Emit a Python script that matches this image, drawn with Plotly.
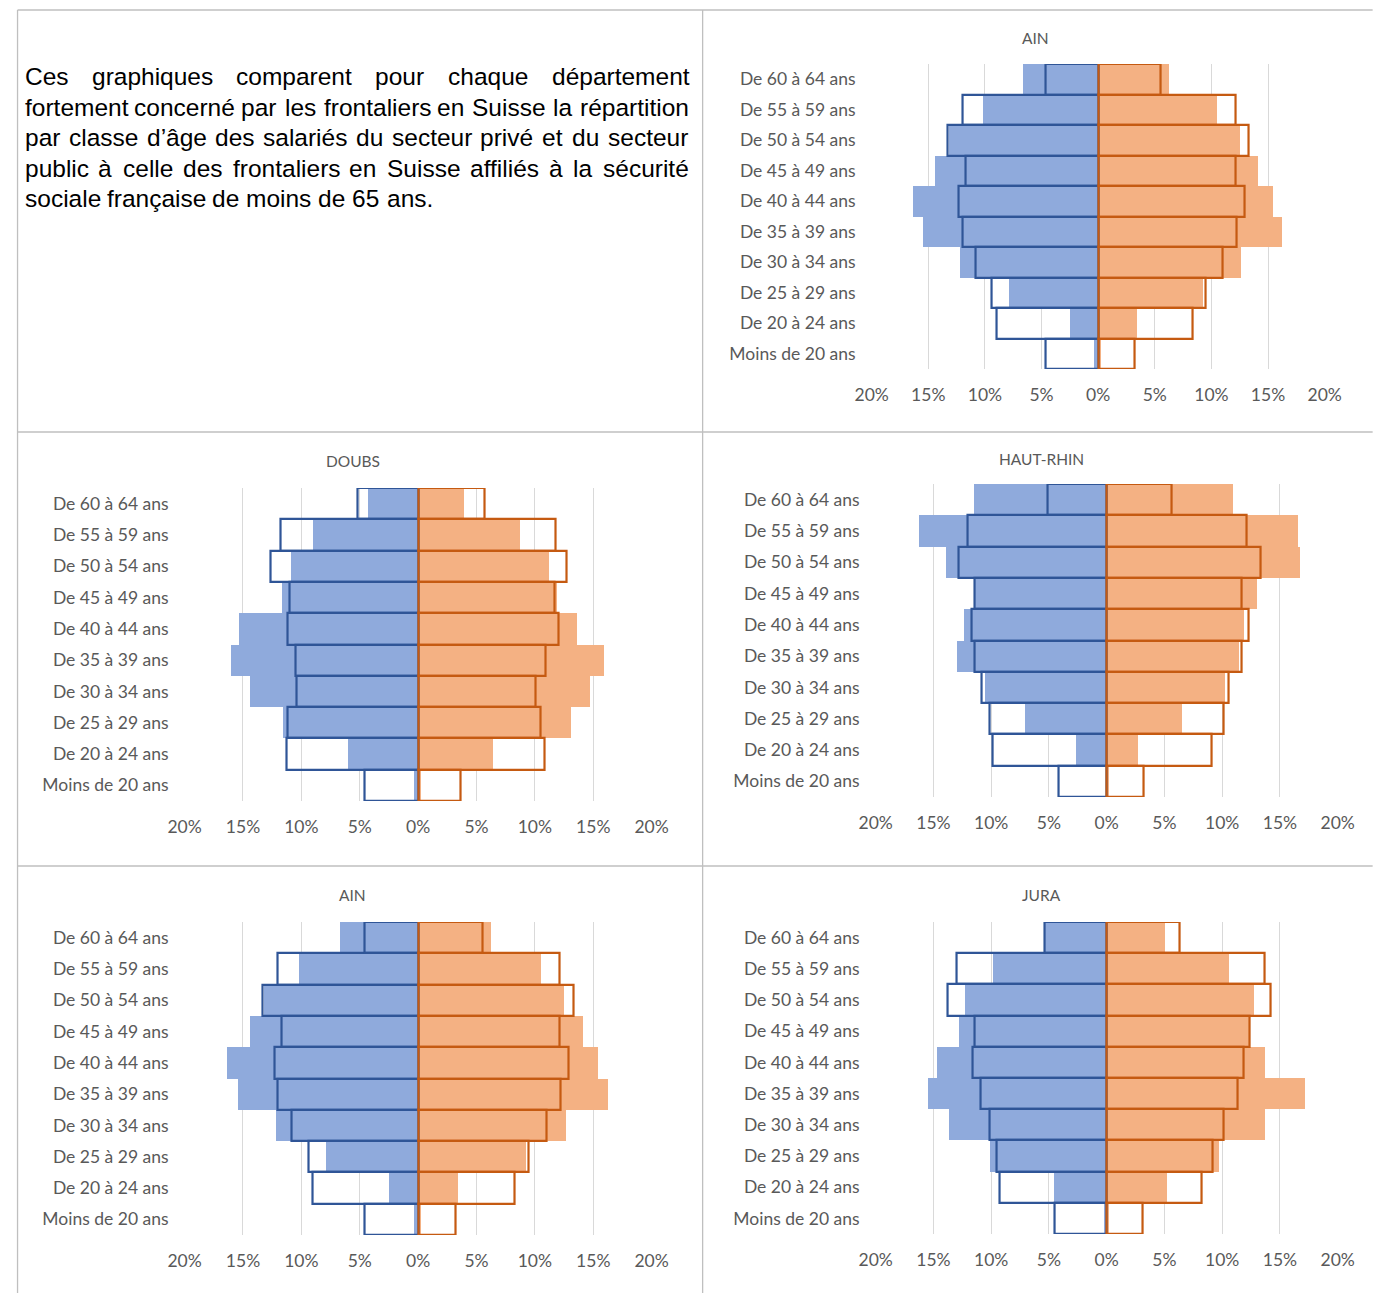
import plotly.graph_objects as go

# canvas size; the photographed page shows page-x as  out = 17.4 + 0.9755 * x,
# so target positions (read in reference pixels) are converted through that map.
W, H = 1390, 1293
XOFF, XSCALE = 17.4, 0.9755

# ---------------- data (bottom -> top) ----------------
categories = ["Moins de 20 ans", "De 20 à 24 ans", "De 25 à 29 ans", "De 30 à 34 ans",
              "De 35 à 39 ans", "De 40 à 44 ans", "De 45 à 49 ans", "De 50 à 54 ans",
              "De 55 à 59 ans", "De 60 à 64 ans"]

tick_values = [-20, -15, -10, -5, 0, 5, 10, 15, 20]
tick_labels = ["20%", "15%", "10%", "5%", "0%", "5%", "10%", "15%", "20%"]

# AIN
ain_prive = [0.4, 2.5, 7.9, 12.2, 15.5, 16.4, 14.4, 13.2, 10.2, 6.7]
ain_front_g = [4.6, 9.0, 9.4, 10.8, 12.0, 12.3, 11.7, 13.3, 12.0, 4.6]
ain_public = [0.2, 3.4, 9.2, 12.6, 16.2, 15.4, 14.1, 12.5, 10.5, 6.2]
ain_front_d = [3.2, 8.3, 9.5, 11.0, 12.2, 12.9, 12.1, 13.3, 12.1, 5.5]

# DOUBS
doubs_prive = [0.4, 6.0, 11.6, 14.4, 16.1, 15.4, 11.7, 10.9, 9.0, 4.3]
doubs_front_g = [4.6, 11.3, 11.2, 10.4, 10.5, 11.2, 11.0, 12.6, 11.8, 5.2]
doubs_public = [0.2, 6.4, 13.1, 14.7, 15.9, 13.6, 11.9, 11.2, 8.7, 3.9]
doubs_front_d = [3.6, 10.8, 10.5, 10.1, 10.9, 12.0, 11.7, 12.7, 11.8, 5.7]

# HAUT-RHIN
hr_prive = [0.1, 2.7, 7.1, 10.6, 13.0, 12.4, 11.5, 13.9, 16.3, 11.5]
hr_front_g = [4.2, 9.9, 10.1, 10.8, 11.4, 11.7, 11.4, 12.8, 12.0, 5.1]
hr_public = [0.1, 2.7, 6.5, 10.2, 11.4, 11.9, 13.0, 16.7, 16.5, 10.9]
hr_front_d = [3.2, 9.1, 10.1, 10.6, 11.7, 12.3, 11.7, 13.3, 12.1, 5.6]

# JURA
jura_prive = [0.3, 4.6, 10.1, 13.7, 15.5, 14.7, 12.8, 12.3, 9.9, 5.4]
jura_front_g = [4.5, 9.3, 9.5, 10.1, 10.9, 11.6, 11.4, 13.8, 13.0, 5.4]
jura_public = [0.1, 5.2, 9.7, 13.7, 17.1, 13.7, 12.3, 12.7, 10.6, 5.0]
jura_front_d = [3.1, 8.2, 9.2, 10.1, 11.3, 11.9, 12.4, 14.2, 13.7, 6.3]

intro_lines = [
    "Ces graphiques comparent pour chaque département",
    "fortement concerné par les frontaliers en Suisse la répartition",
    "par classe d’âge des salariés du secteur privé et du secteur",
    "public à celle des frontaliers en Suisse affiliés à la sécurité",
    "sociale française de moins de 65 ans.",
]

# ---------------- styles ----------------
BLUE_FILL = "#8FAADC"
BLUE_LINE = "#2F5597"
ORANGE_FILL = "#F4B183"
ORANGE_LINE = "#C55A11"
GRID = "#D9D9D9"
BORDER = "#BFBFBF"
TXT = "#595959"
FONT = "Lato, Calibri, sans-serif"

def px(x):
    v = ((x - XOFF) / XSCALE) / W
    return min(max(v, 0.0004), 1.0)

def py(y):
    return 1 - y / H

# panels: (title, data, x0, x1, ytop, ybot, title_x, title_y)  -- reference pixels
panels = [
    ("AIN", (ain_prive, ain_front_g, ain_public, ain_front_d), 872, 1325, 64, 369, 1036, 38),
    ("DOUBS", (doubs_prive, doubs_front_g, doubs_public, doubs_front_d), 185, 652, 488, 801, 353, 461),
    ("HAUT-RHIN", (hr_prive, hr_front_g, hr_public, hr_front_d), 876, 1338, 484, 797, 1042, 459),
    ("AIN", (ain_prive, ain_front_g, ain_public, ain_front_d), 185, 652, 922, 1235, 353, 895),
    ("JURA", (jura_prive, jura_front_g, jura_public, jura_front_d), 876, 1338, 922, 1234, 1042, 895),
]

fig = go.Figure()
annotations = []
layout_axes = {}

for i, (title, data, x0, x1, yt, yb, tx, ty) in enumerate(panels, start=1):
    prive, front_g, public, front_d = data
    xa = "x" if i == 1 else f"x{i}"
    ya = "y" if i == 1 else f"y{i}"
    fig.add_trace(go.Bar(y=categories, x=[-v for v in prive], orientation="h",
                         marker=dict(color=BLUE_FILL, line=dict(width=0)),
                         width=1, xaxis=xa, yaxis=ya, showlegend=False,
                         name="Salariés"))
    fig.add_trace(go.Bar(y=categories, x=public, orientation="h",
                         marker=dict(color=ORANGE_FILL, line=dict(width=0)),
                         width=1, xaxis=xa, yaxis=ya, showlegend=False,
                         name="Salariés"))
    fig.add_trace(go.Bar(y=categories, x=[-v for v in front_g], orientation="h",
                         marker=dict(color="rgba(0,0,0,0)", line=dict(color=BLUE_LINE, width=2.2)),
                         width=1, xaxis=xa, yaxis=ya, showlegend=False,
                         name="Frontaliers"))
    fig.add_trace(go.Bar(y=categories, x=front_d, orientation="h",
                         marker=dict(color="rgba(0,0,0,0)", line=dict(color=ORANGE_LINE, width=2.2)),
                         width=1, xaxis=xa, yaxis=ya, showlegend=False,
                         name="Frontaliers"))
    xkey = "xaxis" if i == 1 else f"xaxis{i}"
    ykey = "yaxis" if i == 1 else f"yaxis{i}"
    layout_axes[xkey] = dict(
        domain=[px(x0), px(x1)], anchor=ya, range=[-20, 20],
        tickmode="array", tickvals=tick_values, ticktext=tick_labels,
        showgrid=True, gridcolor=GRID, gridwidth=1, zeroline=False,
        showline=False, ticks="", ticklabelstandoff=13,
        tickfont=dict(family=FONT, size=17.5, color=TXT), fixedrange=True,
    )
    layout_axes[ykey] = dict(
        domain=[py(yb), py(yt)], anchor=xa, range=[-0.5, 9.5],
        type="category", categoryorder="array", categoryarray=categories,
        showgrid=False, zeroline=False, showline=False, ticks="",
        ticklabelstandoff=15,
        tickfont=dict(family=FONT, size=17.5, color=TXT), fixedrange=True,
    )
    annotations.append(dict(text=title, x=px(tx), y=py(ty), xref="paper", yref="paper",
                            xanchor="center", yanchor="middle", showarrow=False,
                            font=dict(family=FONT, size=15.5, color=TXT)))

# ---------------- justified intro text ----------------
HELV = {" ": 278, "a": 556, "b": 556, "c": 500, "d": 556, "e": 556, "f": 278, "g": 556,
        "h": 556, "i": 222, "j": 222, "k": 500, "l": 222, "m": 833, "n": 556, "o": 556,
        "p": 556, "q": 556, "r": 333, "s": 500, "t": 278, "u": 556, "v": 500, "w": 722,
        "x": 500, "y": 500, "z": 500, "C": 722, "S": 667, "é": 556, "è": 556, "à": 556,
        "â": 556, "ç": 500, "’": 222, ".": 278, "6": 556, "5": 556}
FS = 24.5
LEFT, RIGHT = 24, 686
line_y = [77, 107.5, 138, 168.5, 199]

def wwidth(w):
    return sum(HELV.get(ch, 556) for ch in w) / 1000 * 24

for li, line in enumerate(intro_lines):
    words = line.split(" ")
    widths = [wwidth(w) for w in words]
    last = li == len(intro_lines) - 1
    if last or len(words) == 1:
        gap = HELV[" "] / 1000 * 24 + 1
    else:
        gap = (RIGHT - LEFT - sum(widths)) / (len(words) - 1)
    x = LEFT
    for w, wd in zip(words, widths):
        annotations.append(dict(text=w, x=px(x - 1), y=py(line_y[li]), xref="paper", yref="paper",
                                xanchor="left", yanchor="middle", showarrow=False,
                                font=dict(family="Liberation Sans, Arial, sans-serif", size=FS, color="#000000")))
        x += wd + gap

# ---------------- cell borders ----------------
shapes = []
RX = 1373
for (xa0, ya0, xa1, ya1) in [(10, 10, RX, 10), (10, 10, 10, H), (703, 10, 703, H),
                             (10, 432, RX, 432), (10, 866, RX, 866)]:
    shapes.append(dict(type="line", xref="paper", yref="paper",
                       x0=px(xa0), y0=py(ya0), x1=px(xa1), y1=py(ya1),
                       line=dict(color=BORDER, width=1.3)))

fig.update_layout(
    width=W, height=H, margin=dict(l=0, r=0, t=0, b=0),
    paper_bgcolor="white", plot_bgcolor="white",
    barmode="overlay", bargap=0,
    annotations=annotations, shapes=shapes, showlegend=False,
    **layout_axes,
)

fig.write_html(
    "out.html",
    config={"responsive": False, "displayModeBar": False},
    post_script="document.body.style.margin='0';document.body.style.overflow='hidden';",
)
